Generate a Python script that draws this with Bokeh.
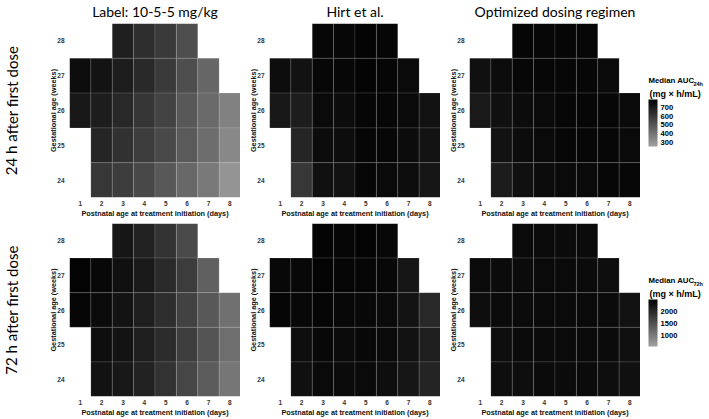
from bokeh.plotting import figure
from bokeh.models import (ColumnDataSource, LinearColorMapper, ColorBar, FixedTicker, Range1d,
                          Label, AllLabels)
from bokeh.layouts import column, row
from bokeh.embed import file_html
from bokeh.resources import INLINE

# ---------------- data ----------------
PNA_DAYS = [1, 2, 3, 4, 5, 6, 7, 8]
GA_WEEKS = [28, 27, 26, 25, 24]
PANEL_TITLES = ["Label: 10-5-5 mg/kg", "Hirt et al.", "Optimized dosing regimen"]
ROW_TITLES = ["24 h after first dose", "72 h after first dose"]
X_LABEL = "Postnatal age at treatment initiation (days)"
Y_LABEL = "Gestational age (weeks)"
LEGEND_SUB = ["24h", "72h"]
LEGEND_UNIT = "(mg \u00d7 h/mL)"

N = None
# rows = GA 28, 27, 26, 25, 24 ; columns = PNA 1..8
auc24_label = [
    [N, N, 685, 635, 595, 530, N, N],
    [745, 725, 690, 650, 595, 530, 450, N],
    [710, 690, 655, 610, 565, 495, 435, 360],
    [N, 665, 625, 590, 545, 490, 425, 335],
    [N, 605, 585, 550, 495, 445, 385, 295],
]
auc24_hirt = [
    [N, N, 765, 765, 775, 770, N, N],
    [745, 730, 765, 765, 775, 770, 755, N],
    [710, 690, 755, 750, 770, 765, 755, 730],
    [N, 665, 750, 745, 770, 765, 750, 725],
    [N, 605, 735, 730, 765, 755, 745, 715],
]
auc24_opt = [
    [N, N, 770, 765, 770, 765, N, N],
    [735, 750, 765, 765, 765, 765, 755, N],
    [705, 735, 750, 755, 765, 765, 765, 755],
    [N, 730, 750, 755, 765, 765, 765, 755],
    [N, 695, 735, 750, 755, 755, 765, 765],
]
auc72_label = [
    [N, N, 2230, 2085, 1865, 1595, N, N],
    [2450, 2400, 2305, 2180, 1985, 1765, 1325, N],
    [2425, 2355, 2255, 2110, 1935, 1690, 1420, 1130],
    [N, 2330, 2255, 2130, 1960, 1740, 1470, 1150],
    [N, 2280, 2205, 2085, 1890, 1640, 1375, 1055],
]
auc72_hirt = [
    [N, N, 2450, 2425, 2450, 2400, N, N],
    [2400, 2400, 2450, 2425, 2425, 2400, 2230, N],
    [2425, 2400, 2425, 2400, 2400, 2355, 2255, 2010],
    [N, 2330, 2400, 2375, 2400, 2375, 2280, 2110],
    [N, 2305, 2375, 2355, 2375, 2330, 2230, 2060],
]
auc72_opt = [
    [N, N, 2375, 2375, 2355, 2355, N, N],
    [2355, 2355, 2355, 2375, 2375, 2355, 2330, N],
    [2330, 2355, 2355, 2375, 2375, 2375, 2355, 2280],
    [N, 2330, 2355, 2355, 2375, 2375, 2355, 2305],
    [N, 2330, 2330, 2355, 2355, 2355, 2330, 2305],
]
AUC24_RANGE = (255, 790)
AUC72_RANGE = (540, 2500)
AUC24_TICKS = [300, 400, 500, 600, 700]
AUC72_TICKS = [1000, 1500, 2000]

GRIDS = [[auc24_label, auc24_hirt, auc24_opt], [auc72_label, auc72_hirt, auc72_opt]]
RANGES = [AUC24_RANGE, AUC72_RANGE]
TICKS = [AUC24_TICKS, AUC72_TICKS]

# ---------------- style / layout ----------------
PALETTE = ["#%02x%02x%02x" % (v, v, v) for v in [int(round(160 * (1 - i / 255))) for i in range(256)]]
SMALL_FONT = "Liberation Sans"
BIG_FONT = "Lato"
FW = 171
FH = [174, 173]
STRIP_W = 24
LEG_W = 69
TITLE_H = 23
BORDER_L = [45, 29, 29]
BORDER_B = [26, 23]


def text_fig(w, r):
    h = FH[r] + BORDER_B[r]
    f = figure(width=w, height=h, x_range=Range1d(0, w), y_range=Range1d(0, FH[r]),
               output_backend="svg", toolbar_location=None,
               x_axis_location=None, y_axis_location=None,
               min_border_left=0, min_border_right=0, min_border_top=0,
               min_border_bottom=BORDER_B[r], outline_line_color=None,
               background_fill_color="white", border_fill_color="white")
    f.grid.visible = False
    return f


mappers = [LinearColorMapper(palette=PALETTE, low=lo, high=hi) for lo, hi in RANGES]


def make_panel(r, c):
    grid = GRIDS[r][c]
    xs, ys, vals = [], [], []
    for gi, ga in enumerate(GA_WEEKS):
        for pi, pna in enumerate(PNA_DAYS):
            v = grid[gi][pi]
            if v is not None:
                xs.append(pna)
                ys.append(ga)
                vals.append(v)
    src = ColumnDataSource(dict(x=xs, y=ys, auc=vals))

    p = figure(frame_width=FW, frame_height=FH[r],
               x_range=Range1d(0.5, 8.5), y_range=Range1d(23.5, 28.5),
               output_backend="svg", toolbar_location=None,
               min_border_left=BORDER_L[c], min_border_right=0,
               min_border_top=0, min_border_bottom=BORDER_B[r],
               outline_line_color=None, background_fill_color="white",
               border_fill_color="white")
    p.rect(x="x", y="y", width=1, height=1, source=src,
           fill_color={"field": "auc", "transform": mappers[r]},
           line_color="white", line_alpha=0.12, line_width=1)
    p.xgrid.visible = False
    p.ygrid.visible = False
    p.xaxis.ticker = FixedTicker(ticks=PNA_DAYS)
    p.yaxis.ticker = FixedTicker(ticks=GA_WEEKS)
    p.xaxis.axis_label = X_LABEL
    p.yaxis.axis_label = Y_LABEL
    for ax in (p.xaxis[0], p.yaxis[0]):
        ax.axis_line_color = None
        ax.major_tick_line_color = None
        ax.minor_tick_line_color = None
        ax.major_tick_out = 0
        ax.major_tick_in = 0
        ax.minor_tick_out = 0
        ax.minor_tick_in = 0
        ax.major_label_text_font = SMALL_FONT
        ax.major_label_text_font_size = "6.5px"
        ax.major_label_text_font_style = "bold"
        ax.major_label_text_color = "#333333"
        ax.axis_label_text_font = SMALL_FONT
        ax.axis_label_text_font_size = "7.3px"
        ax.axis_label_text_font_style = "bold"
        ax.axis_label_text_color = "#111111"
    p.xaxis.major_label_standoff = 3
    p.xaxis.axis_label_standoff = 0
    p.yaxis.major_label_standoff = 5
    p.yaxis.axis_label_standoff = -4
    return p


def make_strip(r):
    f = text_fig(STRIP_W, r)
    f.add_layout(Label(x=11, y=FH[r] / 2, x_units="screen", y_units="screen",
                       text=ROW_TITLES[r], angle=1.5707963,
                       text_align="center", text_baseline="middle",
                       text_font=BIG_FONT, text_font_size="15px", text_color="black"))
    return f


def make_legend(r):
    f = text_fig(LEG_W, r)
    top = FH[r]
    f.add_layout(Label(x=8, y=top - 57, x_units="screen", y_units="screen",
                       text="Median AUC", text_align="left",
                       text_baseline="middle", text_font=SMALL_FONT, text_font_size="7.8px",
                       text_font_style="bold", text_color="black"))
    f.add_layout(Label(x=53, y=top - 60, x_units="screen", y_units="screen",
                       text=LEGEND_SUB[r], text_align="left",
                       text_baseline="middle", text_font=SMALL_FONT, text_font_size="5.5px",
                       text_font_style="bold", text_color="black"))
    f.add_layout(Label(x=9, y=top - 70, x_units="screen", y_units="screen",
                       text=LEGEND_UNIT, text_align="left",
                       text_baseline="middle", text_font=SMALL_FONT, text_font_size="9px",
                       text_font_style="bold", text_color="black"))
    cb = ColorBar(color_mapper=mappers[r], ticker=FixedTicker(ticks=TICKS[r]),
                  width=9, height=47, location=(8, top - 123),
                  padding=0, margin=0, label_standoff=3,
                  major_label_policy=AllLabels(),
                  major_tick_line_color=None, minor_tick_line_color=None,
                  bar_line_color=None, border_line_color=None,
                  background_fill_alpha=0,
                  major_label_text_font=SMALL_FONT, major_label_text_font_size="7.6px",
                  major_label_text_font_style="bold", major_label_text_color="black")
    f.add_layout(cb, "center")
    return f


def make_titles():
    total_w = STRIP_W + sum(BORDER_L) + 3 * FW + LEG_W
    f = figure(width=total_w, height=TITLE_H, x_range=Range1d(0, total_w),
               y_range=Range1d(0, TITLE_H), output_backend="svg", toolbar_location=None,
               x_axis_location=None, y_axis_location=None, min_border=0,
               outline_line_color=None, background_fill_color="white",
               border_fill_color="white")
    f.grid.visible = False
    x0 = STRIP_W
    for c in range(3):
        cx = x0 + BORDER_L[c] + FW / 2
        f.add_layout(Label(x=cx, y=TITLE_H / 2 + 1, text=PANEL_TITLES[c], text_align="center",
                           text_baseline="middle", text_font=BIG_FONT, text_font_size="14px",
                           text_color="black"))
        x0 += BORDER_L[c] + FW
    return f


rows = [make_titles()]
for r in range(2):
    rows.append(row(make_strip(r), *[make_panel(r, c) for c in range(3)], make_legend(r)))
layout = column(*rows)
open("out.html", "w").write(file_html(layout, INLINE))
